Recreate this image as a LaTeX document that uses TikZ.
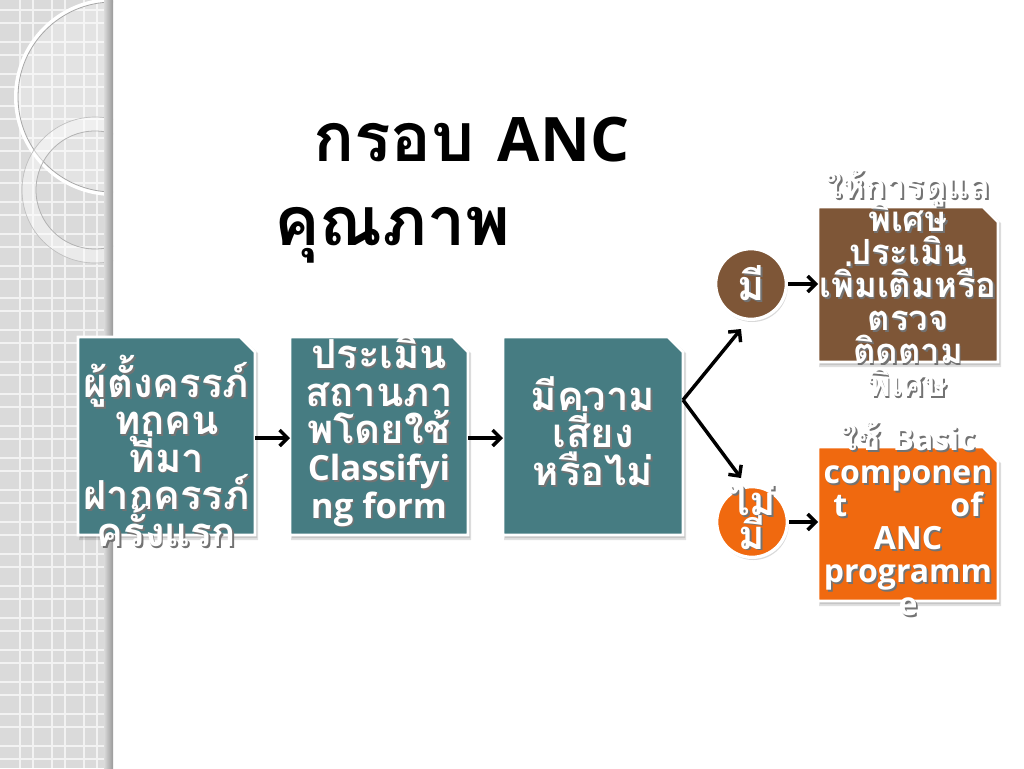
\documentclass[tikz,border=0pt]{standalone}
\usepackage{fontspec}
\setmainfont{Open Sans}
\newfontfamily\thai[Script=Thai]{Loma}
\usetikzlibrary{arrows.meta,shadows}
\definecolor{tealbox}{HTML}{467C82}
\definecolor{brownbox}{HTML}{7E5637}
\definecolor{orangebox}{HTML}{F0690F}
\definecolor{panel}{HTML}{DADADA}
\definecolor{gridline}{HTML}{F2F2F2}
\newcommand\tightlines{\lineskiplimit-100pt\relax}
\newcommand\sh[1]{\rlap{\kern1.3pt\raisebox{-1.3pt}{\color{black!55}#1}}#1}
\newcommand\latbox{\normalfont\bfseries\fontsize{26}{28}\selectfont}
\newcommand\latside{\normalfont\bfseries\fontsize{24}{24.75}\selectfont}
\newcommand\snipbox[5]{%
  \fill[black, opacity=0.12] (#1+1,#2+2) -- (#3-12,#2+2) -- (#3+3,#2+16) -- (#3+3,#4+5) -- (#1+1,#4+5) -- cycle;
  \fill[black, opacity=0.12] (#1+2,#2+3) -- (#3-12,#2+3) -- (#3+2,#2+16) -- (#3+2,#4+3) -- (#1+2,#4+3) -- cycle;
  \filldraw[fill=#5, draw=white, line width=2pt] (#1,#2) -- (#3-15,#2) -- (#3,#2+15) -- (#3,#4) -- (#1,#4) -- cycle;}
\tikzset{
  anchorbox/.style={inner sep=0pt, outer sep=0pt},
  boxtext/.style={text=white, align=center, inner sep=0pt, font=\thai\bfseries\fontsize{30}{28}\selectfont\tightlines},
  sidetext/.style={text=white, align=center, inner sep=0pt, font=\thai\bfseries\fontsize{26}{24.75}\selectfont\tightlines},
  titletext/.style={anchor=west, inner sep=0pt, font=\thai\bfseries\fontsize{51}{55}\selectfont},
  bubble/.style={circle, draw=white, line width=2.5pt, minimum size=53pt, inner sep=0pt,
     drop shadow={shadow xshift=1pt, shadow yshift=-2pt, opacity=0.3}},
  arr/.style={-{Straight Barb[length=6pt,width=12pt]}, line width=2.6pt, black}
}
\begin{document}
\begin{tikzpicture}[x=0.75pt,y=-0.75pt]
\useasboundingbox (0,0) rectangle (1024,768);
% left decorative panel
\fill[panel] (0,0) rectangle (113,768);
\foreach \gx in {20,33,52,65,84,97}{\draw[gridline, line width=1.2pt] (\gx,0) -- (\gx,768);}
\foreach \k in {0,...,23}{
  \draw[gridline, line width=1.2pt] (0,10+32*\k) -- (113,10+32*\k);
  \draw[gridline, line width=1.2pt] (0,23+32*\k) -- (113,23+32*\k);}
\begin{scope}
\clip (0,0) rectangle (113,768);
\fill[white, opacity=0.25] (113,97) circle (97);
\draw[white, line width=3pt] (113,97) circle (97);
\draw[black!35, line width=0.6pt] (113,97) circle (95);
\draw[white, opacity=0.45, line width=10pt] (95,190) circle (66);
\draw[black!25, line width=0.5pt] (95,190) circle (73);
\draw[black!30, line width=0.6pt] (95,190) circle (59);
\end{scope}
\shade[left color=panel, right color=black!40] (104,0) rectangle (113,768);
% title
\node[titletext] (t1) at (313,140) {กรอบ {\normalfont\bfseries\fontsize{46}{50}\selectfont ANC}};
\node[titletext] (t2) at (274,235) {คุณภาพ};
% boxes
\snipbox{78}{337}{255}{535}{tealbox}
\snipbox{290}{337}{468}{535}{tealbox}
\snipbox{503}{337}{683}{535}{tealbox}
\snipbox{818}{207}{998}{362}{brownbox}
\snipbox{818}{447}{998}{601}{orangebox}
\node[anchorbox, minimum width=133pt, minimum height=148.5pt] (b1) at (166.5,436) {};
\node[anchorbox, minimum width=133.5pt, minimum height=148.5pt] (b2) at (379,436) {};
\node[anchorbox, minimum width=135pt, minimum height=148.5pt] (b3) at (593,436) {};
\node[anchorbox, minimum width=135pt, minimum height=116pt] (br) at (908,284.5) {};
\node[anchorbox, minimum width=135pt, minimum height=115.5pt] (or) at (908,524) {};
\node[boxtext] (b1t) at (166.5,452) {\sh{ผู้ตั้งครรภ์}\\\sh{ทุกคน}\\\sh{ที่มา}\\\sh{ฝากครรภ์}\\\sh{ครั้งแรก}};
\node[boxtext] (b2t) at (379,432) {\sh{ประเมิน}\\\sh{สถานภา}\\\sh{พโดยใช้}\\\latbox\sh{Classifyi}\\\latbox\sh{ng form}};
\node[boxtext] (b3t) at (593,432) {\sh{มีความ}\\\sh{เสี่ยง}\\\sh{หรือไม่}};
\node[sidetext] (brt) at (908,284) {\sh{ให้การดูแล}\\\sh{พิเศษ}\\\sh{ประเมิน}\\\sh{เพิ่มเติมหรือ}\\\sh{ตรวจ}\\\sh{ติดตาม}\\\sh{พิเศษ}};
\node[sidetext] (ort) at (908,520) {\sh{ใช้ {\latside Basic}}\\\latside\sh{componen}\\\latside\sh{\makebox[112pt]{t\hfill of}}\\\latside\sh{ANC}\\\latside\sh{programm}\\\latside\sh{e}};
% circles
\node[bubble, fill=brownbox] (c1) at (751,284) {};
\node[bubble, fill=orangebox] (c2) at (752,522) {};
\node[boxtext, font=\thai\bfseries\fontsize{31}{28}\selectfont] (c1t) at (751,284) {\sh{มี}};
\node[sidetext, font=\thai\bfseries\fontsize{30}{25}\selectfont\tightlines] (c2t) at (752,518) {\sh{ไม่}\\\sh{มี}};
% connectors
\coordinate (fork) at (683,400);
\coordinate (e1) at (741,329);
\coordinate (e2) at (741,478);
\draw[arr] (b1.east|-0,438) -- (b2.west|-0,438);
\draw[arr] (b2.east|-0,438) -- (b3.west|-0,438);
\draw[arr] (fork) -- (e1);
\draw[arr] (fork) -- (e2);
\draw[arr] (c1.east) -- (br.west|-c1.east);
\draw[arr] (c2.east) -- (or.west|-c2.east);
\end{tikzpicture}
\end{document}
